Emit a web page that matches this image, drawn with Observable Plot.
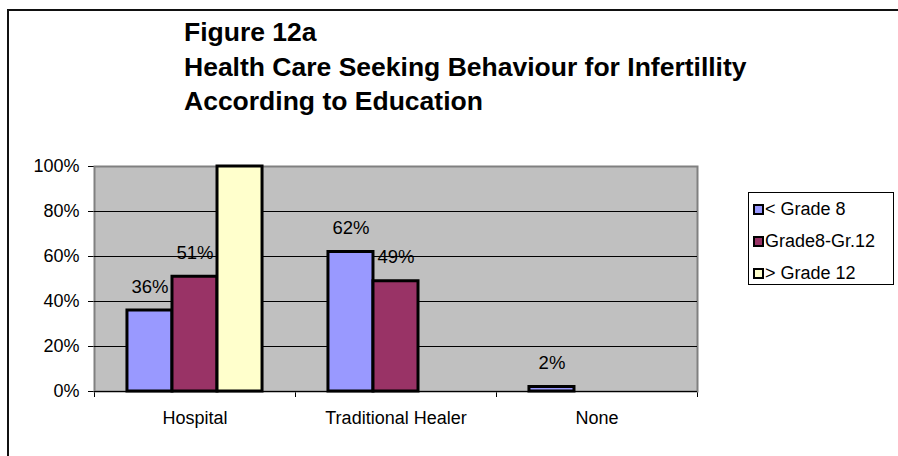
<!DOCTYPE html>
<html>
<head>
<meta charset="utf-8">
<script src="https://cdn.jsdelivr.net/npm/d3@7"></script>
<script src="https://cdn.jsdelivr.net/npm/@observablehq/plot@0.6"></script>
<style>
  html, body { margin: 0; padding: 0; background: #fff; }
  #wrap { position: relative; width: 898px; height: 456px; overflow: hidden; background: #fff;
          font-family: "Liberation Sans", Arial, Helvetica, sans-serif; }
  #border { position: absolute; left: 7px; top: 9px; width: 2000px; height: 2000px;
            border-left: 2px solid #111; border-top: 2px solid #111; }
  #title { position: absolute; left: 184px; top: 15px; font-size: 26.5px; font-weight: bold;
           line-height: 34.7px; color: #000; white-space: nowrap; }
  #chart { position: absolute; left: 0; top: 0; }
  #legend { position: absolute; left: 748px; top: 192px; width: 144px; height: 91px;
            border: 1px solid #000; background: #fff; font-size: 18px; line-height: 32px;
            color: #000; white-space: nowrap; }
  #legend .row { padding-left: 4px; height: 32px; }
  #legend .sw { display: inline-block; box-sizing: border-box; width: 11px; height: 11px;
                border: 2px solid #000; margin-right: 1px; vertical-align: baseline; }
</style>
</head>
<body>
<div id="wrap">
  <div id="border"></div>
  <div id="title"></div>
  <div id="chart"></div>
  <div id="legend"></div>
</div>
<script>
const titleLines = ["Figure 12a", "Health Care Seeking Behaviour for Infertillity", "According to Education"];
const categories = ["Hospital", "Traditional Healer", "None"];
const series = ["< Grade 8", "Grade8-Gr.12", "> Grade 12"];
const seriesColors = ["#9999FF", "#993366", "#FFFFCC"];
const lessThanGrade8 = [36, 62, 2];
const grade8ToGrade12 = [51, 49, 0];
const aboveGrade12 = [100, 0, 0];
const labelsLessThanGrade8 = ["36%", "62%", "2%"];
const labelsGrade8ToGrade12 = ["51%", "49%", ""];
const labelsAboveGrade12 = ["", "", ""];
const yTicks = [0, 20, 40, 60, 80, 100];

const seriesValues = [lessThanGrade8, grade8ToGrade12, aboveGrade12];
const seriesLabels = [labelsLessThanGrade8, labelsGrade8ToGrade12, labelsAboveGrade12];

const rows = [];
categories.forEach((c, ci) => {
  series.forEach((s, sj) => {
    rows.push({category: c, ci, series: s, sj, value: seriesValues[sj][ci], label: seriesLabels[sj][ci]});
  });
});

const barW = 0.224;                       // share of a category band per bar
const groupPad = (1 - series.length * barW) / 2;
const bx1 = d => d.ci + groupPad + d.sj * barW;
const bx2 = d => d.ci + groupPad + (d.sj + 1) * barW;
const bxc = d => d.ci + groupPad + (d.sj + 0.5) * barW;

document.getElementById("title").innerHTML = titleLines.map(t => `<div>${t.replace(/</g,"&lt;")}</div>`).join("");

const font = '"Liberation Sans", Arial, Helvetica, sans-serif';

const chart = Plot.plot({
  width: 898,
  height: 456,
  marginLeft: 94,
  marginRight: 201,
  marginTop: 166,
  marginBottom: 65,
  style: {fontFamily: font, fontSize: "18px", background: "transparent", color: "#000", overflow: "visible"},
  x: {domain: [0, categories.length], ticks: d3.range(categories.length + 1), tickFormat: () => "", tickSize: 6, label: null},
  y: {domain: [0, 100], ticks: yTicks, tickFormat: d => d + "%", tickSize: 6, tickPadding: 9, label: null},
  color: {domain: series, range: seriesColors},
  marks: [
    Plot.frame({fill: "#C0C0C0", stroke: "#808080", strokeWidth: 2}),
    Plot.ruleY(yTicks.filter(t => t > 0 && t < 100), {stroke: "#000", strokeWidth: 1}),
    Plot.ruleY([0], {stroke: "#000", strokeWidth: 1}),
    Plot.rectY(rows.filter(d => d.value > 0), {x1: bx1, x2: bx2, y1: 0, y2: "value", fill: "series", stroke: "#000", strokeWidth: 3}),
    Plot.text(rows.filter(d => d.label), {x: bxc, y: "value", text: "label", lineAnchor: "bottom", dy: -18, fontSize: 18.5, fill: "#000"}),
    Plot.text(categories, {x: (d, i) => i + 0.5, frameAnchor: "bottom", lineAnchor: "top", dy: 20, text: d => d, fontSize: 18, fill: "#000"})
  ]
});
document.getElementById("chart").appendChild(chart);

const legend = document.getElementById("legend");
series.forEach((s, j) => {
  const row = document.createElement("div");
  row.className = "row";
  const sw = document.createElement("span");
  sw.className = "sw";
  sw.style.background = seriesColors[j];
  row.appendChild(sw);
  row.appendChild(document.createTextNode(s));
  legend.appendChild(row);
});
</script>
</body>
</html>
